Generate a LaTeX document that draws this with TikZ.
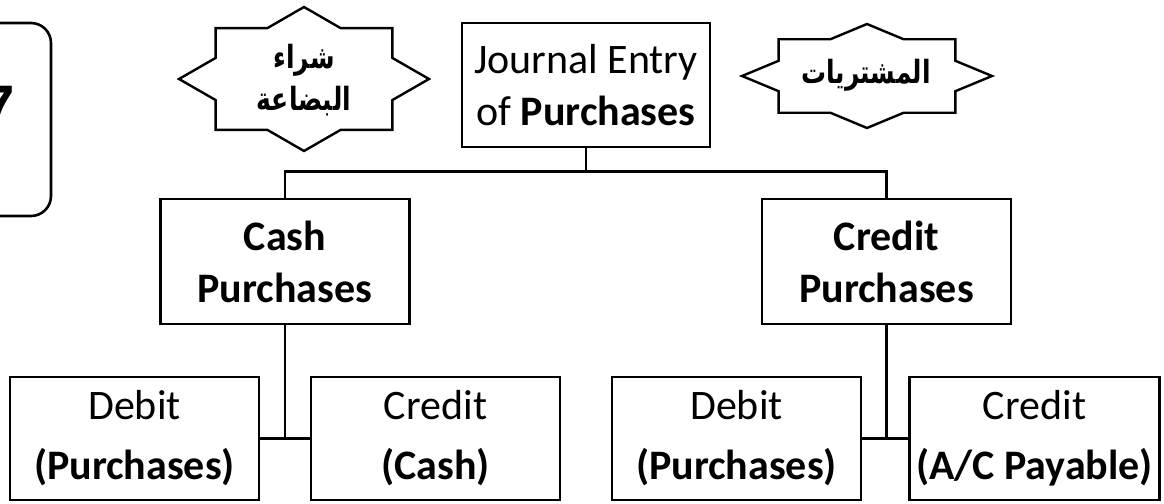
\documentclass[tikz,border=0pt]{standalone}
\usepackage{fontspec}
\setmainfont{Carlito}
\newfontfamily\arabicfont[Script=Arabic, FakeStretch=0.78]{DejaVu Sans}
\newfontfamily\numfont{Liberation Sans}
\TeXXeTstate=1

\tikzset{
  box/.style={draw, line width=1.3pt, align=center},
  topbox/.style={box, minimum width=124pt, minimum height=62pt, font=\fontsize{21}{26}\selectfont},
  midbox/.style={box, minimum width=124.5pt, minimum height=62.5pt, font=\bfseries\fontsize{21}{26}\selectfont},
  lowbox/.style={box, minimum width=124.5pt, minimum height=61.5pt, font=\fontsize{21}{30}\selectfont},
  startext/.style={align=center, font=\arabicfont\bfseries\fontsize{16}{21}\selectfont},
  starline/.style={line width=1.2pt, line join=miter},
  link/.style={line width=1.3pt}
}

\begin{document}
\begin{tikzpicture}[x=0.5pt, y=-0.5pt]
  \useasboundingbox (0,0) rectangle (1164,504);

  \draw[line width=1.3pt, rounded corners=10pt] (-150,23) rectangle (51,216);
  \node[anchor=east, font=\numfont\bfseries\fontsize{30}{30}\selectfont] (num) at (22,107) {7};

  \node[topbox] (jentry) at (586,85) {Journal Entry\\of \textbf{Purchases}};

  \node[startext] (lstar) at (304,80) {\beginR شراء\endR\\\beginR البضاعة\endR};
  \draw[starline] (304,79) +(0:125 and 72) -- +(22.5:95.6 and 55.1)
    -- +(45:125 and 72) -- +(67.5:95.6 and 55.1)
    -- +(90:125 and 72) -- +(112.5:95.6 and 55.1)
    -- +(135:125 and 72) -- +(157.5:95.6 and 55.1)
    -- +(180:125 and 72) -- +(202.5:95.6 and 55.1)
    -- +(225:125 and 72) -- +(247.5:95.6 and 55.1)
    -- +(270:125 and 72) -- +(292.5:95.6 and 55.1)
    -- +(315:125 and 72) -- +(337.5:95.6 and 55.1) -- cycle;

  \node[startext] (rstar) at (866,75) {\beginR المشتريات\endR};
  \draw[starline] (867,76) +(0:125 and 52) -- +(22.5:95.6 and 39.8)
    -- +(45:125 and 52) -- +(67.5:95.6 and 39.8)
    -- +(90:125 and 52) -- +(112.5:95.6 and 39.8)
    -- +(135:125 and 52) -- +(157.5:95.6 and 39.8)
    -- +(180:125 and 52) -- +(202.5:95.6 and 39.8)
    -- +(225:125 and 52) -- +(247.5:95.6 and 39.8)
    -- +(270:125 and 52) -- +(292.5:95.6 and 39.8)
    -- +(315:125 and 52) -- +(337.5:95.6 and 39.8) -- cycle;

  \node[midbox] (cashp) at (285,261.5) {Cash\\Purchases};
  \node[midbox] (creditp) at (886.5,261.5) {Credit\\Purchases};

  \node[lowbox] (cdebit) at (134.5,438.5) {Debit\\\textbf{(Purchases)}};
  \node[lowbox] (ccredit) at (435.5,438.5) {Credit\\\textbf{(Cash)}};
  \node[lowbox] (rdebit) at (736.5,438.5) {Debit\\\textbf{(Purchases)}};
  \node[lowbox] (rcredit) at (1034.5,438.5) {Credit\\\textbf{(A/C Payable)}};

  \draw[link] (jentry.south) -- (jentry.south |- 0,173);
  \draw[link] (cashp.north) -- ++(0,-26) -| (creditp.north);
  \draw[link] (cashp.south) -- (cashp.south |- cdebit.east);
  \draw[link] (cdebit.east) -- (ccredit.west);
  \draw[link] (creditp.south) -- (creditp.south |- rdebit.east);
  \draw[link] (rdebit.east) -- (rcredit.west);
\end{tikzpicture}
\end{document}
